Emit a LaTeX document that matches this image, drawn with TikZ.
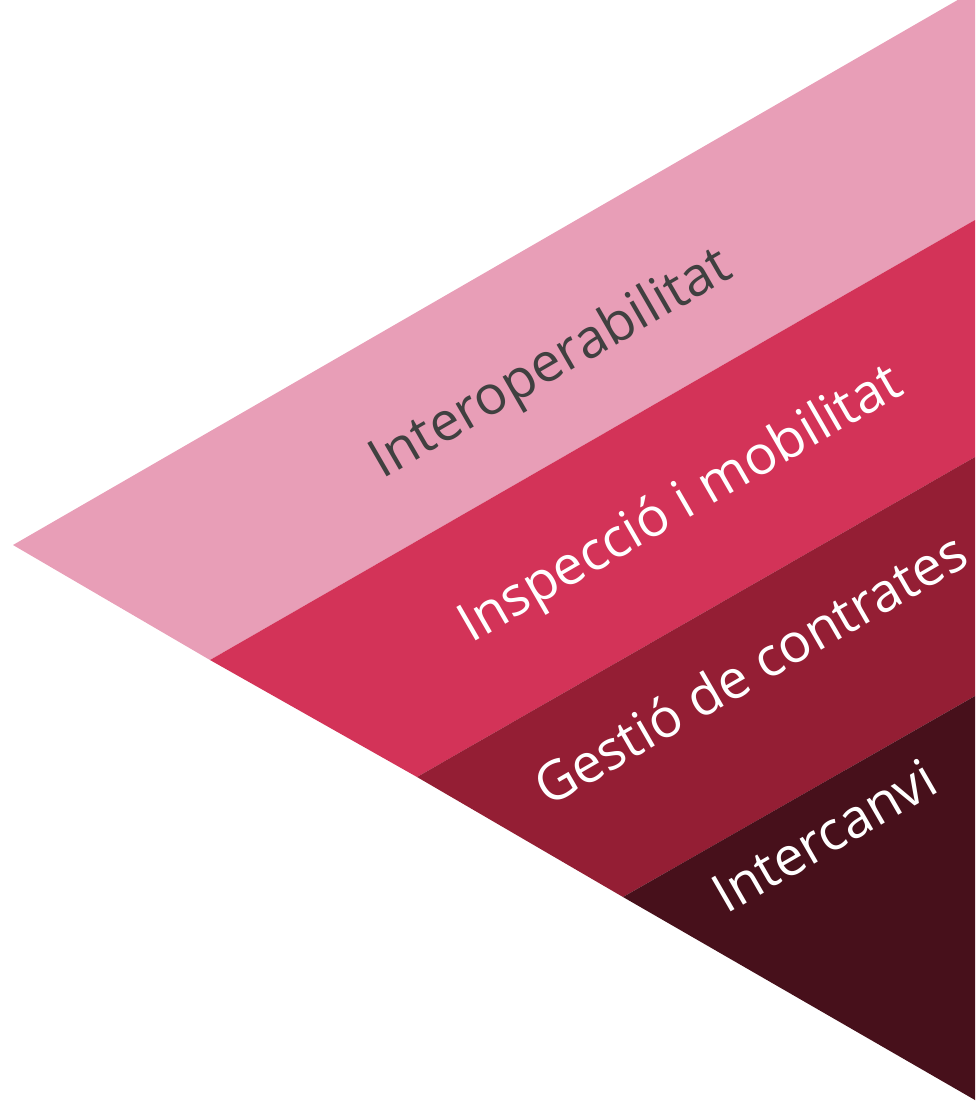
\documentclass[tikz,border=0pt]{standalone}
\usepackage{fontspec}
\setmainfont{Open Sans}
\definecolor{bandA}{RGB}{232,158,183}
\definecolor{bandB}{RGB}{211,51,88}
\definecolor{bandC}{RGB}{148,30,52}
\definecolor{bandD}{RGB}{71,16,27}
\definecolor{txtdark}{RGB}{64,64,64}
\begin{document}
\begin{tikzpicture}[x=1pt,y=-1pt,
  lbl/.style={anchor=base west, rotate=30, inner sep=0pt, font=\fontsize{54}{60}\selectfont}]
\useasboundingbox (0,0) rectangle (976,1110);
\clip (0,0) rectangle (976,1110);
\coordinate (T) at (13,545);
\coordinate (R0) at (975,-10);
\coordinate (R1) at (975,220);
\coordinate (R2) at (975,457);
\coordinate (R3) at (975,696);
\coordinate (R4) at (975,1100);
\coordinate (B1) at (210,660);
\coordinate (B2) at (417,777);
\coordinate (B3) at (623,897);
\fill[bandA] (T) -- (R0) -- (R1) -- (B1) -- cycle;
\fill[bandB] (B1) -- (R1) -- (R2) -- (B2) -- cycle;
\fill[bandC] (B2) -- (R2) -- (R3) -- (B3) -- cycle;
\fill[bandD] (B3) -- (R3) -- (R4) -- cycle;
\node[lbl, text=txtdark] (l1) at (382,480) {Interoperabilitat};
\node[lbl, text=white] (l2) at (471,644) {Inspecció i mobilitat};
\node[lbl, text=white] (l3) at (548,808) {Gestió de contrates};
\node[lbl, text=white] (l4) at (726,915) {Intercanvi};
\end{tikzpicture}
\end{document}
